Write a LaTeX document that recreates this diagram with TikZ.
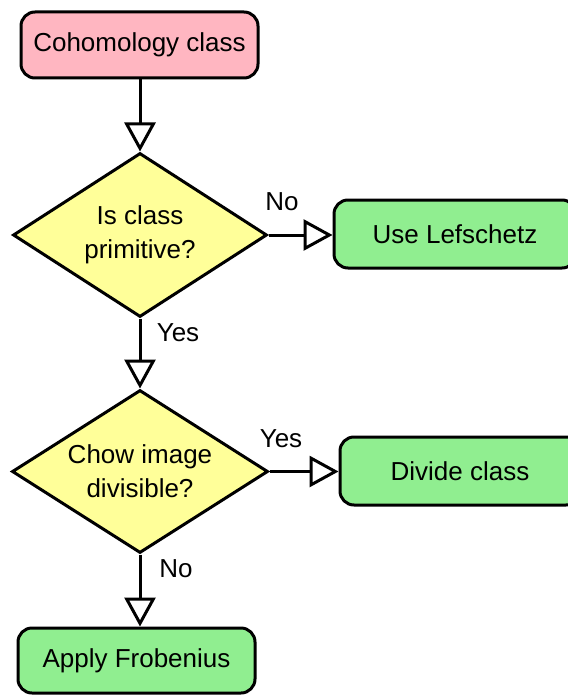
\documentclass[tikz,border=0pt]{standalone}
\usepackage{fontspec}
\setmainfont{Liberation Sans}
\usetikzlibrary{shapes.geometric,arrows.meta}
\definecolor{boxpink}{HTML}{FFB6C1}
\definecolor{boxgreen}{HTML}{90EE90}
\definecolor{boxyellow}{HTML}{FFFF99}
\begin{document}
\begin{tikzpicture}[x=1pt,y=-1pt,
  every node/.style={font=\fontsize{26}{34}\selectfont},
  rbox/.style={draw, line width=3pt, rounded corners=14pt, inner sep=0pt},
  dbox/.style={draw, diamond, aspect=1.55, line width=3pt, fill=boxyellow, inner sep=0pt, align=center},
  flow/.style={line width=3pt, -{Triangle[open, length=29pt, width=31pt, line width=3pt]}},
  lbl/.style={inner sep=0pt}]
\useasboundingbox (0,0) rectangle (567,695);
\node[rbox, fill=boxpink, minimum width=237pt, minimum height=66pt] (start) at (139.5,45) {Cohomology class};
\node[dbox, minimum width=254pt, minimum height=164pt] (d1) at (140,235) {Is class\\primitive?};
\node[rbox, fill=boxgreen, minimum width=242pt, minimum height=68pt] (lef) at (455,234) {Use Lefschetz};
\node[dbox, minimum width=256pt, minimum height=163pt] (d2) at (140,471.5) {Chow image\\divisible?};
\node[rbox, fill=boxgreen, minimum width=240pt, minimum height=68pt] (div) at (460,471) {Divide class};
\node[rbox, fill=boxgreen, minimum width=237pt, minimum height=65pt] (frob) at (136.5,660.5) {Apply Frobenius};
\draw[flow] (start.south -| d1.north) -- (d1.north);
\draw[flow] (d1.east) -- (lef.west |- d1.east);
\draw[flow] (d1.south) -- (d2.north);
\draw[flow] (d2.east) -- (div.west |- d2.east);
\draw[flow] (d2.south) -- (frob.north -| d2.south);
\node[lbl] (l1) at (282,202) {No};
\node[lbl] (l2) at (178,333) {Yes};
\node[lbl] (l3) at (281,439) {Yes};
\node[lbl] (l4) at (176,569) {No};
\end{tikzpicture}
\end{document}
